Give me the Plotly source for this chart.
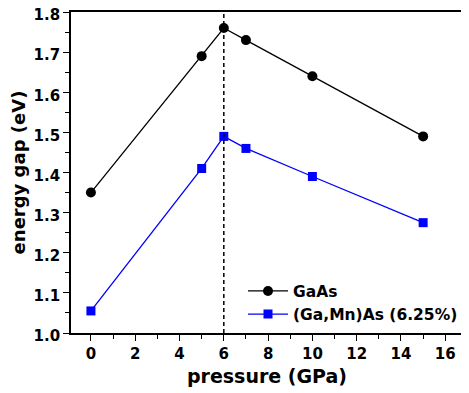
import plotly.graph_objects as go

pressure = [0, 5, 6, 7, 10, 15]
gaas = [1.35, 1.69, 1.76, 1.73, 1.64, 1.49]
gamnas = [1.055, 1.41, 1.49, 1.46, 1.39, 1.275]
x_ticks = [0, 2, 4, 6, 8, 10, 12, 14, 16]
y_ticks = [1.0, 1.1, 1.2, 1.3, 1.4, 1.5, 1.6, 1.7, 1.8]
dash_x = 6

font = "DejaVu Sans, Verdana, sans-serif"

fig = go.Figure()
fig.add_trace(go.Scatter(x=pressure, y=gaas, mode="lines+markers", name="<b>GaAs</b>",
                         line=dict(color="black", width=1.3),
                         marker=dict(symbol="circle", size=10, color="black")))
fig.add_trace(go.Scatter(x=pressure, y=gamnas, mode="lines+markers", name="<b>(Ga,Mn)As (6.25%)</b>",
                         line=dict(color="#0000ff", width=1.3),
                         marker=dict(symbol="square", size=9, color="#0000ff")))
fig.add_shape(type="line", x0=dash_x, x1=dash_x, y0=0, y1=1, xref="x", yref="paper",
              line=dict(color="black", width=1.5, dash="4px,3px"))

axis_common = dict(showgrid=False, zeroline=False, showline=True, linecolor="black", linewidth=1.8,
                   mirror=True, ticks="outside", ticklen=6, tickwidth=1.2, tickcolor="black",
                   automargin=False, ticklabeloverflow="allow",
                   tickfont=dict(family=font, size=15, color="black"))
fig.update_xaxes(range=[-0.9, 16.8], tickvals=x_ticks, ticktext=[f"<b>{v}</b>" for v in x_ticks],
                 minor=dict(dtick=1, ticks="outside", ticklen=4, tickwidth=1.2, tickcolor="black"),
                 title=dict(text="<b>pressure (GPa)</b>", font=dict(family=font, size=19, color="black"), standoff=8),
                 **axis_common)
fig.update_yaxes(range=[1.0, 1.8], tickvals=y_ticks, ticktext=[f"<b>{v:.1f}</b>" for v in y_ticks],
                 ticklabelshift=3,
                 minor=dict(dtick=0.05, ticks="outside", ticklen=4, tickwidth=1.2, tickcolor="black"),
                 title=dict(text="<b>energy gap (eV)</b>", font=dict(family=font, size=18, color="black"), standoff=7),
                 **axis_common)
fig.update_layout(width=469, height=393, margin=dict(l=63, r=14, t=4, b=68),
                  plot_bgcolor="white", paper_bgcolor="white",
                  legend=dict(x=1.0, y=0.005, xanchor="right", yanchor="bottom",
                              bgcolor="rgba(0,0,0,0)", font=dict(family=font, size=15.5, color="black"),
                              itemwidth=40, tracegroupgap=0),
                  showlegend=True)
fig.write_html("out.html")
